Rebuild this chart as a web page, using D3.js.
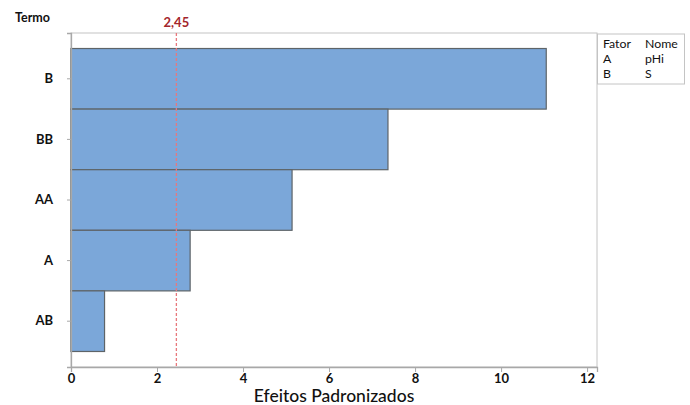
<!DOCTYPE html>
<html>
<head>
<meta charset="utf-8">
<script src="https://cdn.jsdelivr.net/npm/d3@7"></script>
<style>
  html, body { margin: 0; padding: 0; background: #fff; }
  svg { display: block; font-family: Lato, "Open Sans", sans-serif; }
</style>
</head>
<body>
<svg id="chart" width="690" height="405"></svg>
<script>
// Pareto of standardized effects
const terms = ["B", "BB", "AA", "A", "AB"];
const effects = [11.05, 7.37, 5.14, 2.77, 0.78];
const refValue = 2.45;
const refLabel = "2,45";
const xTicks = [0, 2, 4, 6, 8, 10, 12];
const legendHeader = ["Fator", "Nome"];
const legendFactors = ["A", "B"];
const legendNames = ["pHi", "S"];

const svg = d3.select("#chart");
const plotL = 71, plotR = 597, plotT = 33, plotB = 367;

const x = d3.scaleLinear().domain([0, 12.23]).range([plotL, plotR]);
const y = d3.scaleBand().domain(terms).range([plotT, plotB])
  .paddingInner(0).paddingOuter(0.256);

// plot frame
svg.append("rect")
  .attr("x", plotL).attr("y", plotT)
  .attr("width", plotR - plotL).attr("height", plotB - plotT)
  .attr("fill", "none").attr("stroke", "#c4c4c4").attr("stroke-width", 1);

// bars
svg.append("g").selectAll("rect")
  .data(terms)
  .join("rect")
  .attr("x", x(0))
  .attr("y", d => y(d))
  .attr("width", (d, i) => x(effects[i]) - x(0))
  .attr("height", y.bandwidth())
  .attr("fill", "#7ba7d9")
  .attr("stroke", "#5e6468")
  .attr("stroke-width", 1.2);

// reference line
svg.append("line")
  .attr("x1", x(refValue)).attr("x2", x(refValue))
  .attr("y1", plotT).attr("y2", plotB)
  .attr("stroke", "#e8787c").attr("stroke-width", 1.3)
  .attr("stroke-dasharray", "3,2");
svg.append("text")
  .attr("x", x(refValue)).attr("y", 27)
  .attr("text-anchor", "middle")
  .attr("fill", "#a4262c").attr("font-size", 13).attr("font-weight", 700)
  .text(refLabel);

// x axis
const xAxis = d3.axisBottom(x).tickValues(xTicks).tickSize(5).tickPadding(2)
  .tickFormat(d3.format("d"));
const gx = svg.append("g").attr("transform", `translate(0,${plotB})`).call(xAxis);
gx.select(".domain").attr("stroke", "#a8a8a8").attr("stroke-width", 1.3);
gx.selectAll(".tick line").attr("stroke", "#a8a8a8");
gx.selectAll(".tick text").attr("fill", "#111").attr("font-size", 13)
  .attr("font-weight", 700).attr("font-family", "Lato, sans-serif");

// y axis
const yAxis = d3.axisLeft(y).tickSize(4).tickPadding(14);
const gy = svg.append("g").attr("transform", `translate(${plotL},0)`).call(yAxis);
gy.select(".domain").attr("stroke", "#a8a8a8").attr("stroke-width", 1.3);
gy.selectAll(".tick line").attr("stroke", "#a8a8a8");
gy.selectAll(".tick text").attr("fill", "#111").attr("font-size", 13)
  .attr("font-weight", 700).attr("font-family", "Lato, sans-serif");

// axis titles
svg.append("text")
  .attr("x", (plotL + plotR) / 2).attr("y", 402)
  .attr("text-anchor", "middle").attr("font-size", 17.5).attr("font-weight", 500)
  .attr("fill", "#111")
  .text("Efeitos Padronizados");
svg.append("text")
  .attr("x", 15).attr("y", 22)
  .attr("font-size", 12.5).attr("font-weight", 700).attr("fill", "#111")
  .text("Termo");

// legend table
const lg = svg.append("g");
lg.append("rect")
  .attr("x", 597.5).attr("y", 34).attr("width", 87).attr("height", 50)
  .attr("fill", "#fff").attr("stroke", "#c4c4c4");
const cols = [603, 645];
const rows = [legendHeader].concat(legendFactors.map((f, i) => [f, legendNames[i]]));
rows.forEach((r, ri) => {
  r.forEach((t, ci) => {
    lg.append("text")
      .attr("x", cols[ci]).attr("y", 48 + ri * 15)
      .attr("font-size", 12.3).attr("fill", "#111")
      .text(t);
  });
});
</script>
</body>
</html>
